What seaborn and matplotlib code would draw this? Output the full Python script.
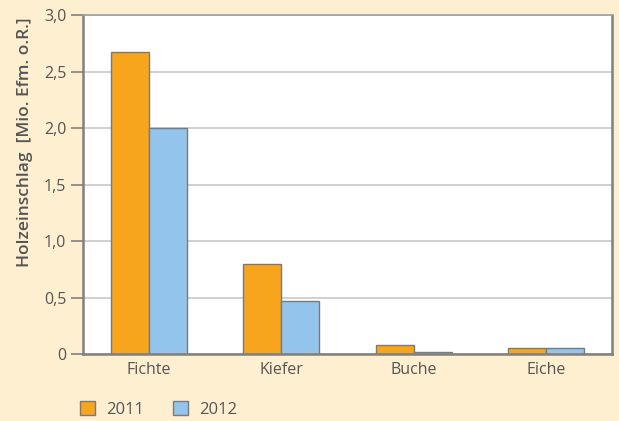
import matplotlib
matplotlib.use("Agg")
import matplotlib.pyplot as plt
import seaborn as sns
import pandas as pd
from matplotlib.patches import Patch

categories = ["Fichte", "Kiefer", "Buche", "Eiche"]
years = ["2011", "2012"]
values_2011 = [2.67, 0.80, 0.08, 0.055]
values_2012 = [2.00, 0.47, 0.02, 0.05]
yticks = [0, 0.5, 1.0, 1.5, 2.0, 2.5, 3.0]
ytick_labels = ["0", "0,5", "1,0", "1,5", "2,0", "2,5", "3,0"]

df = pd.DataFrame({
    "Art": categories * 2,
    "Jahr": [years[0]] * 4 + [years[1]] * 4,
    "Wert": values_2011 + values_2012,
})

sns.set_theme(style="white")
plt.rcParams["font.family"] = ["Open Sans", "DejaVu Sans"]

bg = "#FEEFD0"
txt = "#555555"
colors = {"2011": "#F7A51C", "2012": "#93C5EC"}

fig = plt.figure(figsize=(6.19, 4.21), dpi=100, facecolor=bg)
ax = fig.add_axes([0.134, 0.159, 0.855, 0.805])
ax.set_facecolor("white")

sns.barplot(data=df, x="Art", y="Wert", hue="Jahr", palette=colors,
            width=0.575, edgecolor="#7a7a7a", linewidth=1.0, ax=ax,
            legend=False, saturation=1)

ax.set_ylim(0, 3.0)
ax.set_xlim(-0.5, 3.5)
ax.set_yticks(yticks)
ax.set_yticklabels(ytick_labels)
ax.yaxis.grid(True, color="#c8c8c8", linewidth=1.2)
ax.set_axisbelow(True)

for side in ["left", "bottom", "right"]:
    ax.spines[side].set_color("#808080")
    ax.spines[side].set_linewidth(1.8)
ax.spines["top"].set_color("#a0a0a0")
ax.spines["top"].set_linewidth(1.2)

ax.tick_params(axis="y", length=9, width=1.2, color="#808080", colors=txt,
               labelsize=11.5, left=True, pad=3)
ax.tick_params(axis="x", length=0, colors=txt, labelsize=11.5, pad=6)
ax.set_xlabel("")
ax.set_ylabel("Holzeinschlag  [Mio. Efm. o.R.]", color=txt, fontsize=12.5,
              fontweight="semibold")
ax.yaxis.set_label_coords(-0.095, 0.625)

handles = [Patch(facecolor=colors[y], edgecolor="#7a7a7a", linewidth=1.0, label=y) for y in years]
fig.legend(handles=handles, loc="lower left", bbox_to_anchor=(0.129, 0.008),
           ncol=2, frameon=False, fontsize=12, labelcolor=txt,
           borderpad=0, borderaxespad=0,
           handlelength=0.9, handleheight=0.9, columnspacing=1.7, handletextpad=0.7)

fig.savefig("out.png", dpi=100, facecolor=bg)
